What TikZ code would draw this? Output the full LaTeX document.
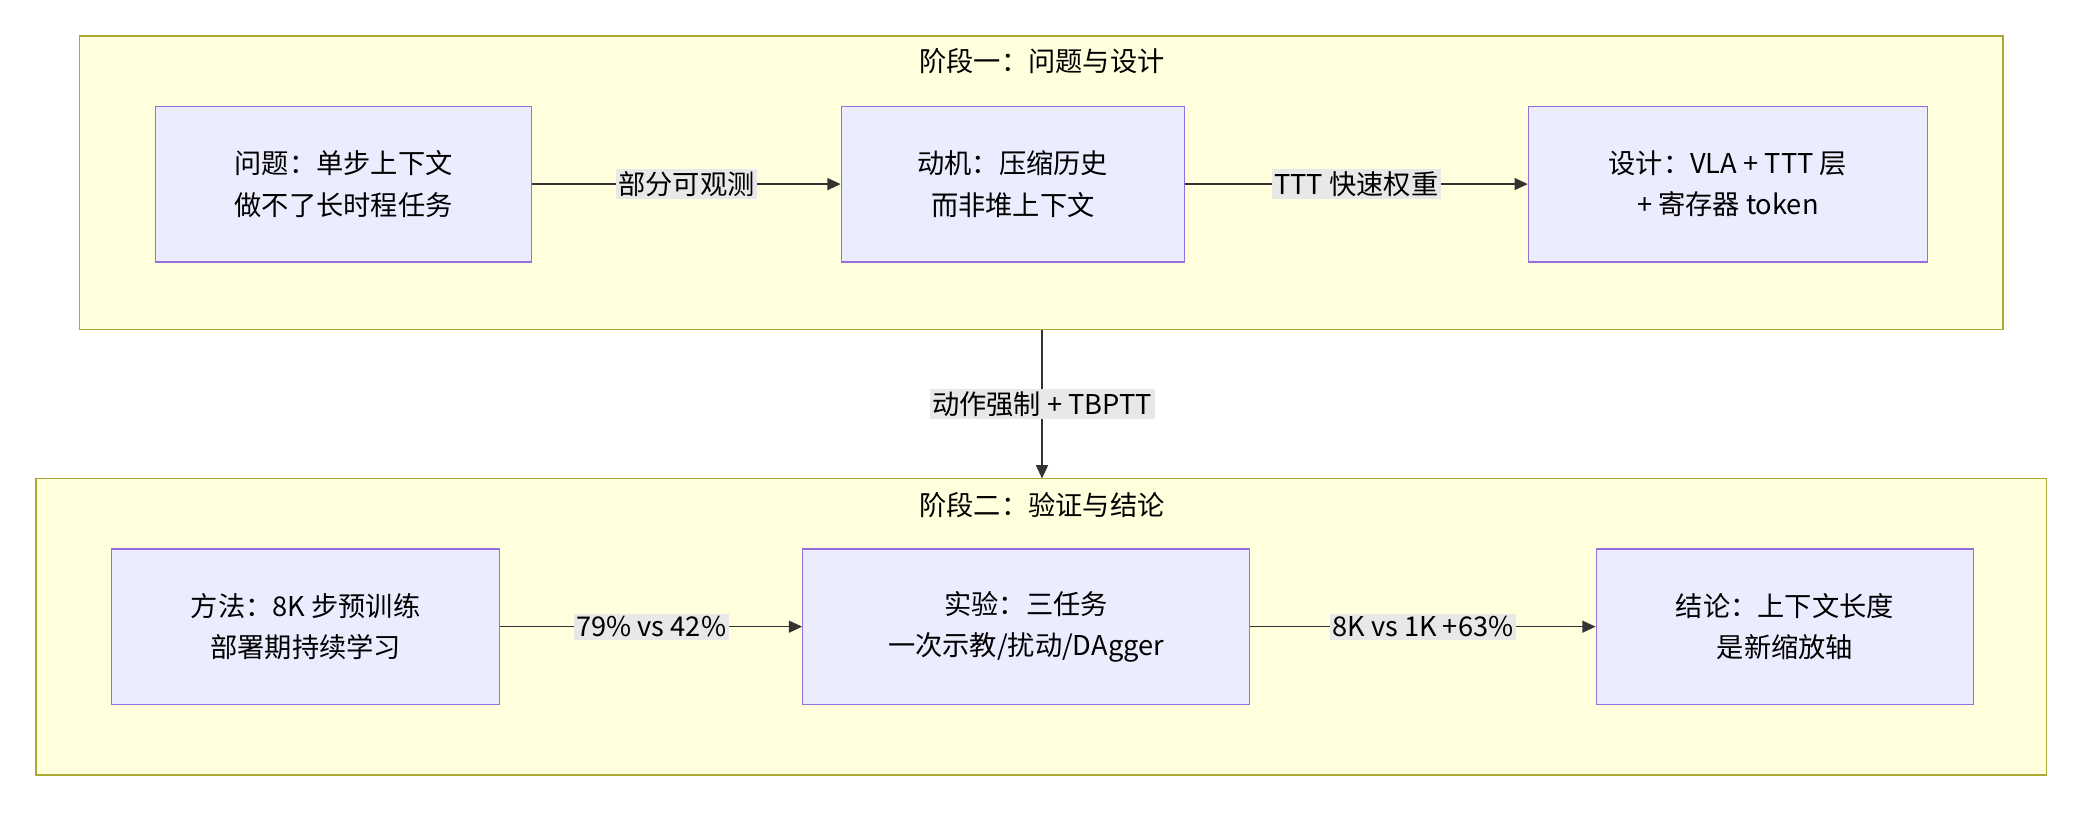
\documentclass[tikz,border=0pt]{standalone}
\usepackage{fontspec}
\setmainfont{Noto Sans CJK SC}
\usetikzlibrary{positioning,arrows.meta}
\definecolor{stagefill}{HTML}{FFFFDE}
\definecolor{stageline}{HTML}{AAAA33}
\definecolor{boxfill}{HTML}{ECECFF}
\definecolor{boxline}{HTML}{9370DB}
\definecolor{tagfill}{HTML}{E8E8E8}
\definecolor{wire}{HTML}{333333}
\tikzset{
  stage/.style={draw=stageline, fill=stagefill, line width=1pt},
  phase box/.style={draw=boxline, fill=boxfill, line width=1pt, align=center,
    minimum height=117pt, inner sep=0pt, font=\fontsize{20.5}{31}\selectfont},
  tag/.style={fill=tagfill, inner sep=2pt, font=\fontsize{20.5}{24}\selectfont},
  title/.style={font=\fontsize{20.5}{24}\selectfont},
  flow/.style={draw=wire, line width=1.2pt, -{Triangle[length=10pt,width=9pt]}}
}
\begin{document}
\begin{tikzpicture}[x=1pt, y=-1pt]
    \useasboundingbox (0,0) rectangle (1568,611);
    % stage one
    \draw[stage] (60,27) rectangle (1507,248);
    \node[title] (T1) at (784,46) {阶段一：问题与设计};
    \node[phase box, minimum width=283pt] (Problem) at (258.5,138.5) {问题：单步上下文\\做不了长时程任务};
    \node[phase box, minimum width=258pt] (Motive) at (762,138.5) {动机：压缩历史\\而非堆上下文};
    \node[phase box, minimum width=300pt] (Design) at (1300,138.5) {设计：VLA + TTT 层\\+ 寄存器 token};
    \draw[flow] (Problem) -- node[tag] {部分可观测} (Motive);
    \draw[flow] (Motive) -- node[tag] {TTT 快速权重} (Design);
    % stage two
    \draw[stage] (27,360) rectangle (1540,583);
    \node[title] (T2) at (784,380) {阶段二：验证与结论};
    \node[phase box, minimum width=292pt] (Method) at (230,471.5) {方法：8K 步预训练\\部署期持续学习};
    \node[phase box, minimum width=336pt] (Test) at (772,471.5) {实验：三任务\\一次示教/扰动/DAgger};
    \node[phase box, minimum width=284pt] (Result) at (1343,471.5) {结论：上下文长度\\是新缩放轴};
    \draw[flow] (Method) -- node[tag] {79\% vs 42\%} (Test);
    \draw[flow] (Test) -- node[tag] {8K vs 1K +63\%} (Result);
    % link
    \coordinate (Top) at (784,248);
    \coordinate (Bottom) at (784,360);
    \draw[flow] (Top) -- node[tag] {动作强制 + TBPTT} (Bottom);
\end{tikzpicture}
\end{document}
